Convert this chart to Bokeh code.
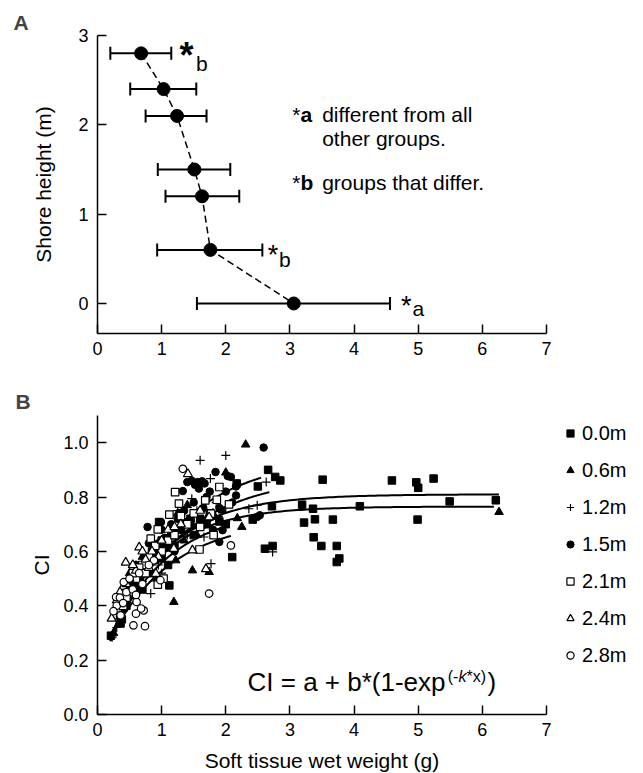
import numpy as np
from bokeh.plotting import figure
from bokeh.models import (ColumnDataSource, Whisker, TeeHead, Label, Legend, LegendItem,
                          FixedTicker, NumeralTickFormatter, Title, Range1d)
from bokeh.layouts import column
from bokeh.embed import file_html
from bokeh.resources import INLINE

FONT = "Liberation Sans"

# ---------------- Panel A data ----------------
shore_height = [2.8, 2.4, 2.1, 1.5, 1.2, 0.6, 0.0]
mean_weight = [0.68, 1.03, 1.24, 1.51, 1.63, 1.76, 3.06]
weight_lo = [0.20, 0.51, 0.75, 0.94, 1.06, 0.93, 1.55]
weight_hi = [1.15, 1.54, 1.70, 2.07, 2.21, 2.57, 4.56]

# ---------------- Panel B data ----------------
series_labels = ["0.0m", "0.6m", "1.2m", "1.5m", "2.1m", "2.4m", "2.8m"]

x_00 = [2.66, 2.77, 2.85, 3.51, 4.59, 4.97, 5.00, 5.24, 2.50, 2.72, 3.19, 3.36, 4.09, 5.49, 6.21,
        2.42, 3.22, 3.39, 3.67, 4.99, 3.37, 3.49, 3.73, 2.61, 2.73, 3.73, 3.77, 2.17, 2.10, 1.12,
        0.21, 0.36, 0.38, 0.45, 0.55, 0.62, 0.70, 0.80, 0.90, 1.00, 1.05, 1.15, 1.25, 1.35, 1.45,
        1.60, 1.75, 1.90, 2.00, 0.96, 0.50, 0.65, 0.75, 0.85, 1.00, 1.10, 1.20, 1.30, 1.50, 1.70,
        0.45]
y_00 = [0.900, 0.874, 0.861, 0.864, 0.861, 0.854, 0.834, 0.868, 0.839, 0.766, 0.772, 0.757, 0.766, 0.784, 0.788,
        0.717, 0.706, 0.718, 0.717, 0.717, 0.652, 0.620, 0.620, 0.610, 0.620, 0.561, 0.574, 0.850, 0.579, 0.475,
        0.290, 0.335, 0.350, 0.400, 0.440, 0.470, 0.460, 0.520, 0.570, 0.580, 0.620, 0.660, 0.680, 0.700, 0.720,
        0.720, 0.740, 0.710, 0.700, 0.708, 0.460, 0.500, 0.550, 0.600, 0.640, 0.550, 0.620, 0.740, 0.660, 0.700,
        0.440]

x_06 = [2.31, 1.19, 1.48, 1.74, 2.18, 2.25, 6.26, 2.00, 1.22, 0.25, 0.35, 0.45, 0.55, 0.65, 0.75,
        0.85, 0.95, 1.05, 1.15, 1.30, 1.45, 1.60, 1.80, 1.95, 0.50, 0.90, 1.40, 0.40, 0.60, 0.70,
        0.80, 1.00, 1.10, 1.25, 1.35, 1.55, 1.70]
y_06 = [0.993, 0.414, 0.530, 0.524, 0.722, 0.690, 0.745, 0.890, 0.567, 0.300, 0.360, 0.420, 0.470, 0.500, 0.550,
        0.580, 0.600, 0.630, 0.660, 0.690, 0.720, 0.700, 0.740, 0.750, 0.520, 0.500, 0.770, 0.400, 0.470, 0.580,
        0.530, 0.570, 0.610, 0.740, 0.640, 0.660, 0.720]

x_12 = [1.60, 2.00, 1.47, 1.76, 2.18, 2.63, 2.49, 2.73, 1.77, 0.83, 2.36, 2.00, 1.66, 0.23, 1.40,
        0.30, 0.45, 0.55, 0.65, 0.75, 0.90, 1.00, 1.10, 1.20, 1.30, 1.55, 1.85, 0.60, 1.00, 0.40,
        0.50, 0.70, 0.80, 0.95, 1.15, 1.25, 1.45, 1.70]
y_12 = [0.935, 0.953, 0.794, 0.868, 0.849, 0.855, 0.770, 0.598, 0.555, 0.445, 0.757, 0.763, 0.653, 0.285, 0.660,
        0.320, 0.400, 0.460, 0.500, 0.530, 0.580, 0.620, 0.660, 0.680, 0.720, 0.750, 0.780, 0.550, 0.520, 0.380,
        0.430, 0.490, 0.560, 0.550, 0.630, 0.750, 0.700, 0.720]

x_15 = [2.59, 2.53, 2.16, 2.16, 1.84, 2.03, 2.08, 1.40, 1.47, 1.56, 1.63, 1.67, 1.52, 1.33, 0.78,
        0.99, 1.58, 2.49, 1.95, 1.90, 1.38, 0.35, 0.45, 0.55, 0.65, 0.75, 0.85, 0.95, 1.05, 1.15,
        1.25, 1.35, 1.50, 1.70, 1.90, 2.00, 1.20, 1.60, 1.80, 0.40, 0.50, 0.60, 0.70, 0.80, 0.90,
        1.00, 1.10, 1.30, 1.45, 1.65, 1.75, 2.10]
y_15 = [0.982, 0.733, 0.806, 0.839, 0.892, 0.877, 0.874, 0.855, 0.860, 0.855, 0.858, 0.850, 0.845, 0.822, 0.690,
        0.708, 0.831, 0.727, 0.678, 0.635, 0.708, 0.360, 0.430, 0.480, 0.520, 0.570, 0.600, 0.630, 0.650, 0.700,
        0.720, 0.750, 0.780, 0.800, 0.760, 0.820, 0.600, 0.700, 0.680, 0.410, 0.470, 0.550, 0.540, 0.630, 0.570,
        0.680, 0.640, 0.680, 0.700, 0.760, 0.820, 0.780]

x_21 = [1.21, 1.27, 1.12, 0.94, 1.90, 1.86, 2.05, 1.59, 1.03, 0.94, 1.68, 1.77, 1.81, 0.83,
        0.40, 0.50, 0.60, 0.70, 0.80, 1.00, 1.10, 1.40, 1.50, 0.55, 0.45, 0.65, 0.75, 0.90,
        1.20, 1.30, 1.60]
y_21 = [0.818, 0.776, 0.735, 0.681, 0.837, 0.790, 0.773, 0.607, 0.500, 0.478, 0.788, 0.739, 0.660, 0.647,
        0.400, 0.450, 0.500, 0.550, 0.580, 0.600, 0.640, 0.700, 0.740, 0.520, 0.430, 0.540, 0.520, 0.620,
        0.660, 0.730, 0.690]

x_24 = [1.41, 0.44, 0.22, 0.65, 1.69, 1.48, 1.74, 0.91, 1.19,
        0.30, 0.40, 0.50, 0.60, 0.75, 0.85, 1.00, 1.10, 1.30, 1.60, 0.95,
        0.35, 0.45, 0.55, 0.70, 0.80, 1.20]
y_24 = [0.885, 0.559, 0.353, 0.615, 0.535, 0.604, 0.726, 0.518, 0.610,
        0.420, 0.470, 0.500, 0.530, 0.570, 0.600, 0.640, 0.680, 0.700, 0.750, 0.580,
        0.450, 0.480, 0.550, 0.600, 0.540, 0.690]

x_28 = [1.33, 2.08, 1.74, 0.29, 0.30, 0.61, 0.60, 0.72, 0.56, 0.74, 0.36, 0.88, 0.98, 0.41, 0.68,
        0.45, 0.50, 0.65, 0.80, 0.25, 0.35, 0.55, 0.70, 0.40, 0.60]
y_28 = [0.904, 0.622, 0.445, 0.432, 0.400, 0.414, 0.371, 0.383, 0.328, 0.325, 0.365, 0.567, 0.494, 0.487, 0.390,
        0.450, 0.500, 0.520, 0.550, 0.380, 0.430, 0.460, 0.480, 0.410, 0.440]

# fitted model CI = a + b*(1-exp(-k*x)) for each shore height
fit_a = [0.145, 0.145, 0.147, 0.133, 0.146, 0.164, 0.179]
fit_b = [0.665, 0.620, 0.733, 0.817, 0.654, 0.596, 0.541]
fit_k = [1.135, 1.240, 0.921, 0.916, 1.146, 1.082, 1.034]
fit_xmin = [0.20, 0.20, 0.20, 0.20, 0.20, 0.20, 0.20]
fit_xmax = [6.26, 6.18, 2.68, 2.55, 1.95, 1.98, 2.08]


def style(p):
    for ax in (p.xaxis[0], p.yaxis[0]):
        ax.axis_line_width = 1.5
        ax.axis_line_color = "black"
        ax.major_tick_in = 9
        ax.major_tick_out = 0
        ax.major_tick_line_width = 1.5
        ax.major_tick_line_color = "black"
        ax.minor_tick_line_color = None
        ax.major_label_text_font = FONT
        ax.major_label_text_font_size = "18px"
        ax.major_label_text_color = "black"
        ax.axis_label_text_font = FONT
        ax.axis_label_text_font_size = "21px"
        ax.axis_label_text_font_style = "normal"
        ax.axis_label_text_color = "black"
    p.yaxis[0].major_label_standoff = 9
    p.xaxis[0].major_label_standoff = 8
    p.xgrid.visible = False
    p.ygrid.visible = False
    p.outline_line_color = None
    p.background_fill_color = "white"
    p.border_fill_color = "white"


# ---------------- Panel A ----------------
pA = figure(frame_width=449, frame_height=298, min_border_left=97, min_border_right=94,
            min_border_top=35, min_border_bottom=42,
            x_range=Range1d(0, 7), y_range=Range1d(-0.336, 3.0),
            toolbar_location=None, output_backend="svg")
pA.title = Title(text="A", align="left", offset=-84, text_font=FONT, text_font_size="21px",
                 text_font_style="bold", standoff=4)
style(pA)
pA.xaxis[0].ticker = FixedTicker(ticks=[0, 1, 2, 3, 4, 5, 6, 7])
pA.yaxis[0].ticker = FixedTicker(ticks=[0, 1, 2, 3])
pA.yaxis[0].axis_label = "Shore height (m)"
pA.yaxis[0].axis_label_standoff = 20

srcA = ColumnDataSource(dict(y=shore_height, x=mean_weight, lo=weight_lo, hi=weight_hi))
wh = Whisker(source=srcA, base="y", lower="lo", upper="hi", dimension="width",
             line_width=2, line_color="black",
             lower_head=TeeHead(size=13, line_width=2, line_color="black"),
             upper_head=TeeHead(size=13, line_width=2, line_color="black"))
pA.add_layout(wh)
pA.line("x", "y", source=srcA, line_dash="7 4", line_width=1.5, color="black")
pA.scatter("x", "y", source=srcA, size=13, color="black")


def lab(p, x, y, text, size, style="normal"):
    p.add_layout(Label(x=x, y=y, text=text, text_font=FONT, text_font_size=size,
                       text_font_style=style, text_baseline="alphabetic", text_align="left",
                       text_color="black"))


# significance marks
lab(pA, 1.280, 2.773, "*", "36px", "bold")
lab(pA, 1.536, 2.691, "b", "21px")
lab(pA, 2.655, 0.541, "*", "27px")
lab(pA, 2.830, 0.490, "b", "21px")
lab(pA, 4.730, -0.032, "*", "27px")
lab(pA, 4.910, -0.052, "a", "21px")
# key text
lab(pA, 3.036, 2.120, "*", "21px")
lab(pA, 3.165, 2.120, "a", "21px", "bold")
lab(pA, 3.503, 2.120, "different from all", "21px")
lab(pA, 3.503, 1.844, "other groups.", "21px")
lab(pA, 3.036, 1.359, "*", "21px")
lab(pA, 3.165, 1.359, "b", "21px", "bold")
lab(pA, 3.503, 1.359, "groups that differ.", "21px")

# ---------------- Panel B ----------------
pB = figure(frame_width=449, frame_height=299, min_border_left=97, min_border_right=94,
            min_border_top=40, min_border_bottom=58,
            x_range=Range1d(0, 7), y_range=Range1d(0, 1.1),
            toolbar_location=None, output_backend="svg")
pB.title = Title(text="B", align="left", offset=-82, text_font=FONT, text_font_size="21px",
                 text_font_style="bold", standoff=5)
style(pB)
pB.xaxis[0].ticker = FixedTicker(ticks=[0, 1, 2, 3, 4, 5, 6, 7])
pB.yaxis[0].ticker = FixedTicker(ticks=[0.0, 0.2, 0.4, 0.6, 0.8, 1.0])
pB.yaxis[0].formatter = NumeralTickFormatter(format="0.0")
pB.yaxis[0].axis_label = "CI"
pB.yaxis[0].axis_label_standoff = 7
pB.xaxis[0].axis_label = "Soft tissue wet weight (g)"
pB.xaxis[0].axis_label_standoff = 10

# fitted curves
for a, b, k, x0, x1 in zip(fit_a, fit_b, fit_k, fit_xmin, fit_xmax):
    xs = np.linspace(x0, x1, 120)
    ys = a + b * (1 - np.exp(-k * xs))
    pB.line(xs, ys, line_width=2, color="black")

xs_all = [x_00, x_06, x_12, x_15, x_21, x_24, x_28]
ys_all = [y_00, y_06, y_12, y_15, y_21, y_24, y_28]
marker_style = [
    dict(marker="square", size=7.5, fill_color="black", line_color="black", line_width=1),
    dict(marker="triangle", size=8.5, fill_color="black", line_color="black", line_width=1),
    dict(marker="cross", size=9, fill_color=None, line_color="black", line_width=1.2),
    dict(marker="circle", size=7.5, fill_color="black", line_color="black", line_width=1),
    dict(marker="square", size=7.5, fill_color="white", line_color="black", line_width=1.2),
    dict(marker="triangle", size=9, fill_color="white", line_color="black", line_width=1.2),
    dict(marker="circle", size=7.5, fill_color="white", line_color="black", line_width=1.2),
]
renderers = []
for xs, ys, st in zip(xs_all, ys_all, marker_style):
    r = pB.scatter(xs, ys, **st)
    renderers.append(r)

legend = Legend(items=[LegendItem(label=l, renderers=[r]) for l, r in zip(series_labels, renderers)],
                location=(15, 47), glyph_width=18, glyph_height=18, label_height=24, spacing=13,
                padding=0, margin=8, label_standoff=3, border_line_color=None,
                background_fill_alpha=0, label_text_font=FONT, label_text_font_size="20px",
                label_text_color="black")
pB.add_layout(legend, "right")

# equation
lab(pB, 2.339, 0.118, "CI = a + b*(1-exp", "26px")
lab(pB, 5.461, 0.138, "(-", "16px")
lab(pB, 5.628, 0.138, "k", "16px", "italic")
lab(pB, 5.753, 0.138, "*x)", "16px")
lab(pB, 6.080, 0.118, ")", "26px")

layout = column(pA, pB)
open("out.html", "w").write(file_html(layout, INLINE))
